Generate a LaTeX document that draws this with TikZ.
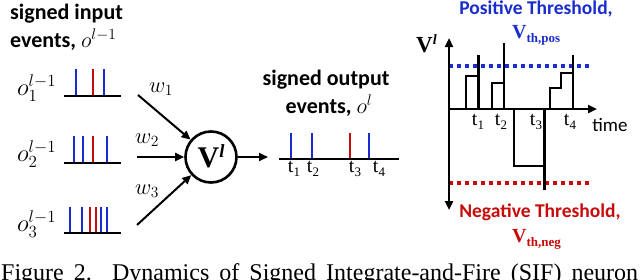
\RequirePackage{fix-cm}
\documentclass[tikz,border=0pt]{standalone}
\usepackage{graphicx}
\usepackage{fontspec}
\setmainfont{Carlito}
\newfontfamily\serifrm{Liberation Serif}
\usetikzlibrary{arrows.meta}
\definecolor{spkblue}{RGB}{25,45,205}
\definecolor{spkred}{RGB}{200,10,10}
\newcommand\myVl[2]{{\fontsize{#1}{#1}\selectfont\serifrm\bfseries V\raisebox{#2}{\fontsize{0.62\dimexpr#1pt\relax}{1pt}\selectfont\itshape l}}}
\newcommand\myVth[1]{{\fontsize{20}{20}\selectfont\serifrm\bfseries V\raisebox{-4pt}{\fontsize{13}{13}\selectfont #1}}}
\newcommand\myT[1]{{\serifrm t\raisebox{-4pt}{\fontsize{13}{13}\selectfont #1}}}
\tikzset{
  lbl/.style={font=\fontsize{22}{26}\selectfont\bfseries, inner sep=0pt},
  thrlbl/.style={font=\fontsize{19.5}{23}\selectfont\bfseries, inner sep=0pt},
  mlbl/.style={font=\fontsize{20.74}{25}\selectfont, inner sep=0pt},
  tlbl/.style={font=\fontsize{20}{23}\selectfont, inner sep=0pt},
  spike/.style={line width=2.8pt},
  train/.style={line width=2.8pt},
  warr/.style={line width=2pt, -{Triangle[length=9pt,width=8pt]}},
  axisline/.style={line width=2.5pt},
  wave/.style={line width=2pt},
  thickspk/.style={line width=3pt},
  thinspk/.style={line width=1.5pt},
  thr/.style={line width=4pt, dash pattern=on 4pt off 4pt},
  neuronbox/.style={circle, draw, line width=2.6pt, minimum size=51pt, inner sep=0pt}
}
\begin{document}
\begin{tikzpicture}[x=1pt,y=-1pt]
\useasboundingbox (0,0) rectangle (640,279);
\clip (0,0) rectangle (640,279);
% ---------- input labels ----------
\node[lbl, anchor=base west] (inA) at (10,19) {signed input};
\node[lbl, anchor=base west] (inB) at (10,47) {events, $o^{l-1}$};
\node[mlbl, anchor=base west] (o1) at (17,95) {\scalebox{1.18}{$o_1^{l-1}$}};
\node[mlbl, anchor=base west] (o2) at (17,161) {\scalebox{1.18}{$o_2^{l-1}$}};
\node[mlbl, anchor=base west] (o3) at (17,231) {\scalebox{1.18}{$o_3^{l-1}$}};
% ---------- input trains ----------
\draw[spike, spkblue] (76,96) -- (76,69);
\draw[spike, spkred]  (93,96) -- (93,69);
\draw[spike, spkblue] (104,96) -- (104,69);
\draw[train] (64,96) -- (121,96);
\draw[spike, spkblue] (74,163) -- (74,136);
\draw[spike, spkblue] (83,163) -- (83,136);
\draw[spike, spkred]  (93,163) -- (93,136);
\draw[spike, spkblue] (107,163) -- (107,136);
\draw[train] (64,163) -- (121,163);
\draw[spike, spkblue] (70,233) -- (70,207);
\draw[spike, spkblue] (82,233) -- (82,207);
\draw[spike, spkred]  (90,233) -- (90,207);
\draw[spike, spkred]  (96,233) -- (96,207);
\draw[spike, spkblue] (101,233) -- (101,207);
\draw[spike, spkblue] (107,233) -- (107,207);
\draw[train] (64,233) -- (121,233);
% ---------- neuron ----------
\node[neuronbox] (neuron) at (211,157) {};
\node[inner sep=0pt] (neurontxt) at (211,156) {\myVl{30}{10pt}};
\coordinate (w1s) at (138,95);
\coordinate (w2s) at (137,157);
\coordinate (w3s) at (137,225);
\draw[warr] (w1s) -- (neuron);
\draw[warr] (w2s) -- (neuron);
\draw[warr] (w3s) -- (neuron);
\node[mlbl] (w1) at (161,89) {\scalebox{1.08}{$w_1$}};
\node[mlbl] (w2) at (147,140) {\scalebox{1.08}{$w_2$}};
\node[mlbl] (w3) at (147,191) {\scalebox{1.08}{$w_3$}};
\coordinate (outend) at (268,157);
\draw[warr] (neuron) -- (outend);
% ---------- output ----------
\node[lbl, anchor=base] (outA) at (326,85) {signed output};
\node[lbl, anchor=base] (outB) at (329,113) {events, $o^{l}$};
\draw[spike, spkblue] (291,159) -- (291,133);
\draw[spike, spkblue] (312,159) -- (312,133);
\draw[spike, spkred]  (350,159) -- (350,133);
\draw[spike, spkblue] (369,159) -- (369,133);
\draw[train] (279,159) -- (399,159);
\node[tlbl, anchor=base] (ot1) at (294,172) {\myT{1}};
\node[tlbl, anchor=base] (ot2) at (313,172) {\myT{2}};
\node[tlbl, anchor=base] (ot3) at (355,172) {\myT{3}};
\node[tlbl, anchor=base] (ot4) at (379,172) {\myT{4}};
% ---------- membrane potential plot ----------
\draw[thr, spkblue] (449,66) -- (590,66);
\draw[thr, spkred] (449,183) -- (590,183);
\draw[wave] (466,109) -- (466,76) -- (478,76);
\draw[thickspk] (478,109) -- (478,55);
\draw[wave] (492,109) -- (492,83) -- (504,83);
\draw[thinspk] (504,109) -- (504,43);
\draw[wave] (514,109) -- (514,166) -- (544,166);
\draw[thickspk] (544,109) -- (544,190);
\draw[wave] (550,109) -- (550,88) -- (561,88) -- (561,73) -- (573,73);
\draw[thinspk] (573,109) -- (573,55);
\draw[axisline, -{Triangle[length=9pt,width=8pt]}] (449,109) -- (597,109);
\draw[axisline, {Triangle[length=9pt,width=8pt]}-{Triangle[length=9pt,width=8pt]}] (449,38) -- (449,210);
\node[anchor=base west, inner sep=0pt] (vl) at (416,52) {\myVl{23}{8pt}};
\node[tlbl, anchor=base] (pt1) at (478,125) {\myT{1}};
\node[tlbl, anchor=base] (pt2) at (501,125) {\myT{2}};
\node[tlbl, anchor=base] (pt3) at (536,125) {\myT{3}};
\node[tlbl, anchor=base] (pt4) at (570,125) {\myT{4}};
\node[anchor=base, inner sep=0pt, font=\fontsize{19}{23}\selectfont] (time) at (610,131) {time};
\node[thrlbl, text=spkblue, anchor=base] (posA) at (536,14) {Positive Threshold,};
\node[anchor=base west, inner sep=0pt, text=spkblue] (posB) at (512,38) {\myVth{th,pos}};
\node[thrlbl, text=spkred, anchor=base] (negA) at (540,217) {Negative Threshold,};
\node[anchor=base west, inner sep=0pt, text=spkred] (negB) at (512,242) {\myVth{th,neg}};
% ---------- caption ----------
\node[anchor=base west, inner sep=0pt, font=\serifrm\fontsize{24}{28}\selectfont] (cap) at (1,280) {\makebox[637pt][s]{Figure 2. Dynamics of Signed Integrate-and-Fire (SIF) neuron}};
\end{tikzpicture}
\end{document}
